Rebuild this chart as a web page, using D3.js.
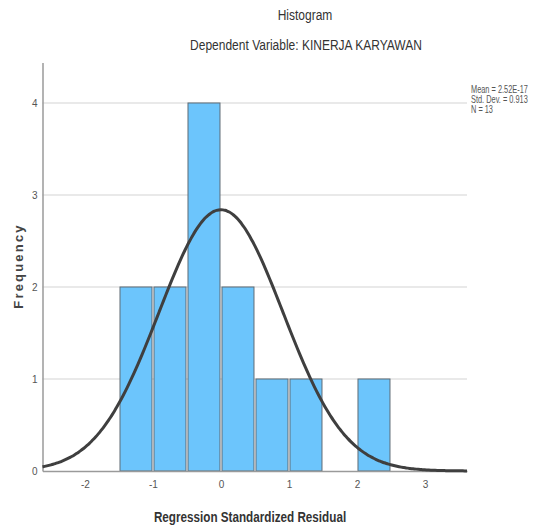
<!DOCTYPE html>
<html><head><meta charset="utf-8">
<script src="https://cdn.jsdelivr.net/npm/d3@7"></script>
<style>
body{margin:0;background:#fff;}
svg text{font-family:"Liberation Sans",Arial,sans-serif;}
</style></head>
<body><svg id="c" width="533" height="527"></svg>
<script>
const binStarts = [-1.5, -1.0, -0.5, 0.0, 0.5, 1.0, 1.5, 2.0];
const binCounts = [2, 2, 4, 2, 1, 1, 0, 1];
const binWidth = 0.5;
const yTicks = [0, 1, 2, 3, 4];
const xTicks = [-2, -1, 0, 1, 2, 3];
const statLines = ["Mean = 2.52E-17", "Std. Dev. = 0.913", "N = 13"];
const mean = 2.52e-17, sd = 0.913, n = 13;

const svg = d3.select("#c");
const x = d3.scaleLinear().domain([-2.625, 3.618]).range([42.5, 467]);
const y = d3.scaleLinear().domain([0, 4.44]).range([471, 62.5]);

// gridlines
svg.append("g").selectAll("line").data(yTicks.filter(d=>d>0)).join("line")
  .attr("x1", x.range()[0]).attr("x2", x.range()[1])
  .attr("y1", d=>y(d)).attr("y2", d=>y(d))
  .attr("stroke", "#d4d4d4").attr("stroke-width", 1.2);

// bars
const bins = binStarts.map((s,i)=>({x0:s, x1:s+binWidth, c:binCounts[i]})).filter(b=>b.c>0);
svg.append("g").selectAll("rect").data(bins).join("rect")
  .attr("x", d=>x(d.x0)+1).attr("width", d=>x(d.x1)-x(d.x0)-2)
  .attr("y", d=>y(d.c)).attr("height", d=>y(0)-y(d.c))
  .attr("fill", "#6cc5fc").attr("stroke", "#5f6b75").attr("stroke-width", 1);

// axes
const ax = d3.axisBottom(x).tickValues(xTicks).tickSize(0).tickPadding(10).tickFormat(d=>String(d));
const gx = svg.append("g").attr("transform", `translate(0,${y(0)})`).call(ax);
gx.select(".domain").attr("stroke", "#9a9a9a").attr("stroke-width", 1.5);
gx.selectAll("text").attr("fill", "#555").attr("font-size", 10);

const ay = d3.axisLeft(y).tickValues(yTicks).tickSize(0).tickPadding(5).tickFormat(d=>String(d));
const gy = svg.append("g").attr("transform", `translate(${x.range()[0]},0)`).call(ay);
gy.select(".domain").attr("stroke", "#9a9a9a").attr("stroke-width", 1.5);
gy.selectAll("text").attr("fill", "#555").attr("font-size", 10);

// normal curve
const pdf = v => Math.exp(-0.5*((v-mean)/sd)**2)/(sd*Math.sqrt(2*Math.PI));
const pts = d3.range(0, 201).map(i => {
  const v = x.domain()[0] + (x.domain()[1]-x.domain()[0])*i/200;
  return [v, n*binWidth*pdf(v)];
});
svg.append("path").datum(pts)
  .attr("d", d3.line().x(d=>x(d[0])).y(d=>y(d[1])).curve(d3.curveBasis))
  .attr("fill", "none").attr("stroke", "#3f3f3f").attr("stroke-width", 3);

// condensed text via horizontal scale (mimics a narrow font)
function narrowText(cx, cy, sx, anchor){
  return svg.append("g").attr("transform", `translate(${cx},${cy}) scale(${sx},1)`)
    .append("text").attr("text-anchor", anchor);
}
narrowText(305, 20, 0.8, "middle").attr("font-size", 15).attr("fill", "#333").text("Histogram");
narrowText(306, 50, 0.8, "middle").attr("font-size", 15).attr("fill", "#333").text("Dependent Variable: KINERJA KARYAWAN");
narrowText(250, 522, 0.78, "middle").attr("font-size", 15).attr("font-weight", "bold").attr("fill", "#333").text("Regression Standardized Residual");
svg.append("text").attr("transform", "translate(23,266) rotate(-90)").attr("text-anchor", "middle")
  .attr("font-size", 13).attr("font-weight", "bold").attr("letter-spacing", 2.2).attr("fill", "#444").text("Frequency");

const statG = svg.append("g").attr("transform", "translate(471,0) scale(0.74,1)");
statG.selectAll("text").data(statLines).join("text")
  .attr("x", 0).attr("y", (d,i)=>93+i*10).attr("font-size", 10).attr("fill", "#555").text(d=>d);
</script></body></html>
